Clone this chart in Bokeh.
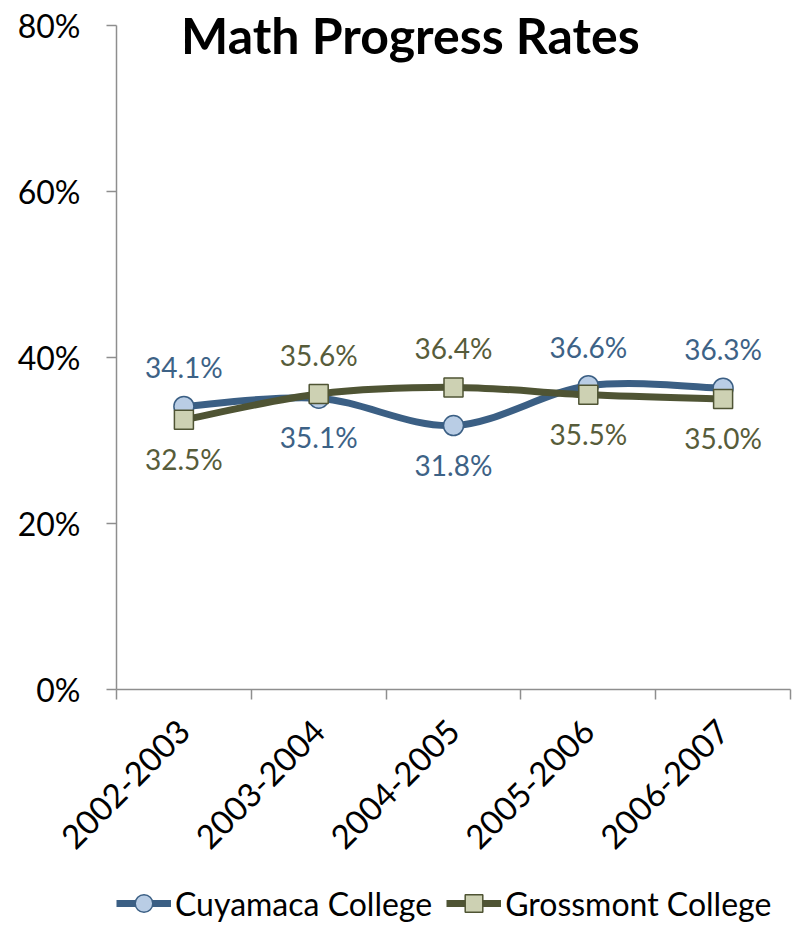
import math
from bokeh.plotting import figure
from bokeh.layouts import column
from bokeh.models import (FixedTicker, NumeralTickFormatter, Label, Legend, LegendItem,
                          Range1d, ColumnDataSource)
from bokeh.core.properties import value
from bokeh.embed import file_html
from bokeh.resources import INLINE

# ---------------- data ----------------
categories = ["2002-2003", "2003-2004", "2004-2005", "2005-2006", "2006-2007"]
cuyamaca = [0.341, 0.351, 0.318, 0.366, 0.363]
grossmont = [0.325, 0.356, 0.364, 0.355, 0.350]
y_ticks = [0.0, 0.2, 0.4, 0.6, 0.8]
title_text = "Math Progress Rates"
series_names = ["Cuyamaca College", "Grossmont College"]

# label placement (style)
cuy_side = ["above", "below", "below", "above", "above"]
gro_side = ["below", "above", "above", "below", "below"]

FONT = "Lato"
CUY_LINE = "#3B5F84"
CUY_FILL = "#B9CDE5"
GRO_LINE = "#4F5434"
GRO_FILL = "#CDD1B3"
CUY_TXT = "#3D6286"
GRO_TXT = "#575C3A"
AXIS = "#8E8E8E"

xs = [i + 0.5 for i in range(len(categories))]
Y_TOP = 0.8 + 20 / 830.0   # a little head-room above 80% for the title
PAGE_W, PAGE_H = 793, 925


def smooth_segments(x, y):
    """Cubic bezier control points (Catmull-Rom style smoothing, as in spreadsheet charts)."""
    n = len(x)
    d = dict(x0=[], y0=[], x1=[], y1=[], cx0=[], cy0=[], cx1=[], cy1=[])
    for i in range(n - 1):
        a = i - 1 if i > 0 else i
        b = i + 2 if i + 2 < n else i + 1
        d["x0"].append(x[i]); d["y0"].append(y[i])
        d["x1"].append(x[i + 1]); d["y1"].append(y[i + 1])
        d["cx0"].append(x[i] + (x[i + 1] - x[a]) / 6.0)
        d["cy0"].append(y[i] + (y[i + 1] - y[a]) / 6.0)
        d["cx1"].append(x[i + 1] - (x[b] - x[i]) / 6.0)
        d["cy1"].append(y[i + 1] - (y[b] - y[i]) / 6.0)
    return ColumnDataSource(d)


# ---------------- main chart ----------------
p = figure(frame_width=674, frame_height=684, output_backend="svg", toolbar_location=None,
           x_range=Range1d(0, len(categories)), y_range=Range1d(0, Y_TOP),
           min_border_left=116, min_border_right=3, min_border_top=5,
           min_border_bottom=0)
p.xgrid.visible = False
p.ygrid.visible = False
p.outline_line_color = None
p.background_fill_color = None
p.border_fill_color = None

# y axis
p.yaxis.ticker = FixedTicker(ticks=y_ticks)
p.yaxis.bounds = (0, 0.8)
p.yaxis.formatter = NumeralTickFormatter(format="0%")
p.yaxis.major_label_text_font = FONT
p.yaxis.major_label_text_font_size = "32px"
p.yaxis.major_label_text_color = "black"
p.yaxis.major_tick_out = 10
p.yaxis.major_tick_in = 0
p.yaxis.minor_tick_out = 0
p.yaxis.minor_tick_in = 0
p.yaxis.major_label_standoff = 26
p.yaxis.axis_line_color = AXIS
p.yaxis.major_tick_line_color = AXIS
p.yaxis.axis_line_width = 1.5
p.yaxis.major_tick_line_width = 1.5

# x axis
p.xaxis.ticker = FixedTicker(ticks=xs, minor_ticks=list(range(len(categories) + 1)))
p.xaxis.major_label_overrides = {x: c for x, c in zip(xs, categories)}
p.xaxis.major_label_orientation = math.pi / 4
p.xaxis.major_label_text_font = FONT
p.xaxis.major_label_text_font_size = "33px"
p.xaxis.major_label_text_color = "black"
p.xaxis.major_tick_out = 0
p.xaxis.major_tick_in = 0
p.xaxis.minor_tick_out = 10
p.xaxis.minor_tick_in = 0
p.xaxis.major_label_standoff = 26
p.xaxis.axis_line_color = AXIS
p.xaxis.minor_tick_line_color = AXIS
p.xaxis.axis_line_width = 1.5
p.xaxis.minor_tick_line_width = 1.5

# series
p.bezier(x0="x0", y0="y0", x1="x1", y1="y1", cx0="cx0", cy0="cy0",
         cx1="cx1", cy1="cy1", source=smooth_segments(xs, cuyamaca),
         line_color=CUY_LINE, line_width=7, line_cap="round")
p.scatter(xs, cuyamaca, marker="circle", size=20, fill_color=CUY_FILL,
          line_color=CUY_LINE, line_width=1.5)
p.bezier(x0="x0", y0="y0", x1="x1", y1="y1", cx0="cx0", cy0="cy0",
         cx1="cx1", cy1="cy1", source=smooth_segments(xs, grossmont),
         line_color=GRO_LINE, line_width=7, line_cap="round")
p.scatter(xs, grossmont, marker="square", size=19, fill_color=GRO_FILL,
          line_color=GRO_LINE, line_width=1.5)

# data labels
for vals, sides, col in ((cuyamaca, cuy_side, CUY_TXT), (grossmont, gro_side, GRO_TXT)):
    src = ColumnDataSource(dict(
        x=xs, y=vals,
        t=[f"{v * 100:.1f}%" for v in vals],
        off=[-39 if s == "above" else 39 for s in sides]))
    p.text(x="x", y="y", text="t", y_offset="off", source=src,
           text_align="center", text_baseline="middle",
           text_font=value(FONT), text_font_size="28px", text_color=col)

# title inside the plot area
p.add_layout(Label(x=2.18, y=0.788, text=title_text, text_font=FONT,
                   text_font_style="bold", text_font_size="50px",
                   text_align="center", text_baseline="alphabetic",
                   text_color="black"))

# ---------------- legend layer (full-page, transparent, drawn underneath) ----------------
# the series are repeated here only to give the legend its glyphs; the ranges keep them off-view
lg = figure(width=PAGE_W, height=PAGE_H, output_backend="svg", toolbar_location=None,
            x_range=Range1d(-100, -99), y_range=Range1d(-100, -99),
            x_axis_location=None, y_axis_location=None,
            min_border=0, outline_line_color=None)
lg.grid.visible = False
lg.background_fill_color = None
lg.border_fill_color = None
l1 = lg.line(xs, cuyamaca, line_color=CUY_LINE, line_width=7)
m1 = lg.scatter(xs, cuyamaca, marker="circle", fill_color=CUY_FILL,
                line_color=CUY_LINE, line_width=1.5)
l2 = lg.line(xs, grossmont, line_color=GRO_LINE, line_width=7)
m2 = lg.scatter(xs, grossmont, marker="square", fill_color=GRO_FILL,
                line_color=GRO_LINE, line_width=1.5)
legend = Legend(items=[LegendItem(label=series_names[0], renderers=[l1, m1]),
                       LegendItem(label=series_names[1], renderers=[l2, m2])],
                orientation="horizontal", location=(0, 0),
                label_text_font=FONT, label_text_font_size="32px",
                label_text_color="black", glyph_width=55, glyph_height=44,
                spacing=14, padding=0, margin=0, label_standoff=4,
                border_line_color=None, background_fill_alpha=0)
lg.add_layout(legend, "center")

# chart drawn on top of the legend layer
p.margin = (-PAGE_H, 0, 0, 0)
layout = column(lg, p, spacing=0)

open("out.html", "w").write(file_html(layout, INLINE))
